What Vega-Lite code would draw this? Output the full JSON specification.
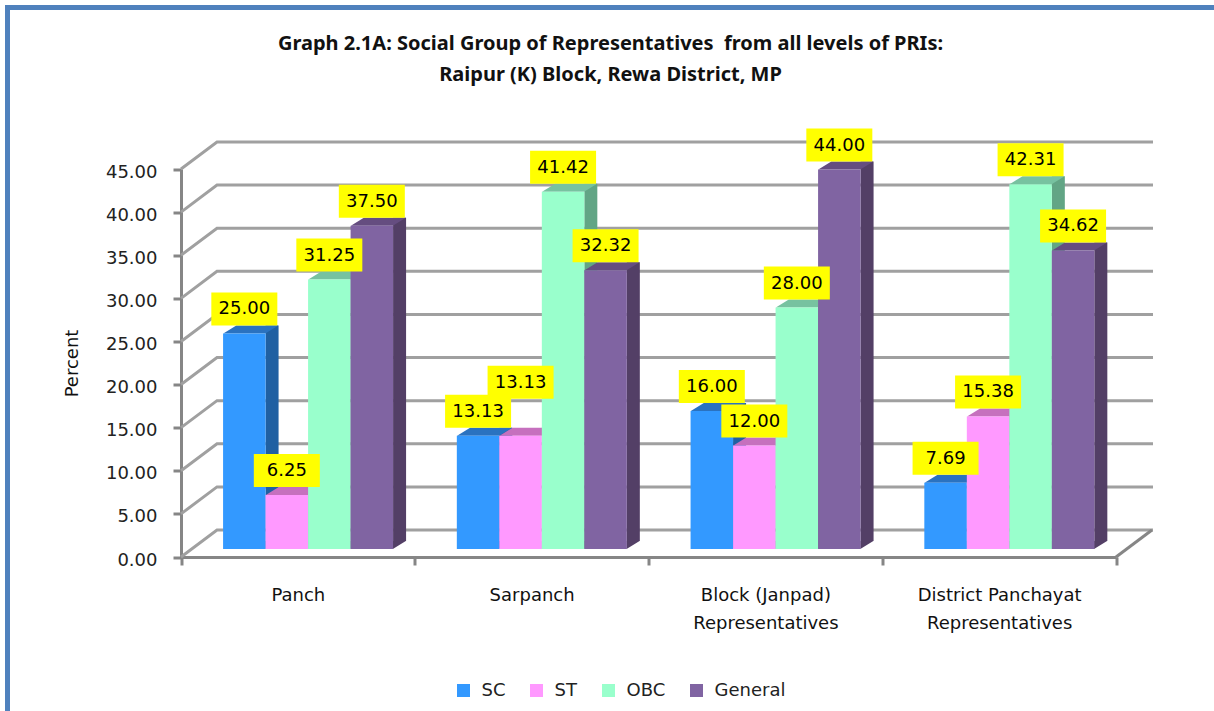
{
"$schema":"https://vega.github.io/schema/vega-lite/v6.json",
"width":1220,"height":720,
"autosize":"none",
"padding":{"left":7.5,"top":7.5,"right":-13.5,"bottom":-16.5},
"background":"white",
"view":{"stroke":"#4F81BD","strokeWidth":5,"fill":"white"},
"title":{"text":["Graph 2.1A: Social Group of Representatives \u00a0from all levels of PRIs:","Raipur (K) Block, Rewa District, MP"],"font":"Noto Sans","fontSize":20,"fontWeight":"bold","color":"#111","lineHeight":31,"anchor":"middle","frame":"group","dx":-7,"offset":-97,"baseline":"bottom"},
"config":{"font":"DejaVu Sans"},
"datasets":{
"bars":[
{"level":"Panch","group":"SC","pct":25},{"level":"Panch","group":"ST","pct":6.25},{"level":"Panch","group":"OBC","pct":31.25},{"level":"Panch","group":"General","pct":37.5},
{"level":"Sarpanch","group":"SC","pct":13.13},{"level":"Sarpanch","group":"ST","pct":13.13},{"level":"Sarpanch","group":"OBC","pct":41.42},{"level":"Sarpanch","group":"General","pct":32.32},
{"level":"Block (Janpad) Representatives","group":"SC","pct":16},{"level":"Block (Janpad) Representatives","group":"ST","pct":12},{"level":"Block (Janpad) Representatives","group":"OBC","pct":28},{"level":"Block (Janpad) Representatives","group":"General","pct":44},
{"level":"District Panchayat Representatives","group":"SC","pct":7.69},{"level":"District Panchayat Representatives","group":"ST","pct":15.38},{"level":"District Panchayat Representatives","group":"OBC","pct":42.31},{"level":"District Panchayat Representatives","group":"General","pct":34.62}
],
"ticks":[{"tick":0},{"tick":5},{"tick":10},{"tick":15},{"tick":20},{"tick":25},{"tick":30},{"tick":35},{"tick":40},{"tick":45}]
},
"data":{"name":"bars"},
"encoding":{
"x":{"field":"level","type":"nominal","title":null,"axis":null,"scale":{"domain":["Panch","Sarpanch","Block (Janpad) Representatives","District Panchayat Representatives"],"range":[173.5,1108.5],"paddingInner":0,"paddingOuter":0}},
"xOffset":{"field":"group","type":"nominal","scale":{"type":"band","domain":["SC","ST","OBC","General"],"paddingInner":0,"paddingOuter":0.75,"align":0.66}},
"y":{"field":"pct","type":"quantitative","title":null,"axis":null,"stack":null,"scale":{"domain":[0,45],"range":[549.5,161.5],"nice":false}}
},
"layer":[
{"data":{"name":"ticks"},
"mark":{"type":"point","shape":"M0,0L36,-27L972,-27","filled":false,"stroke":"#A0A0A0","strokeWidth":3,"size":4,"opacity":1},
"encoding":{"x":{"datum":"Panch","bandPosition":0,"axis":null},"xOffset":null,"y":{"field":"tick","type":"quantitative","axis":null}}},
{"data":{"name":"ticks"},"transform":[{"filter":"datum.tick===0"}],
"mark":{"type":"point","shape":"M0,0L36,-27","filled":false,"stroke":"#868686","strokeWidth":3,"size":4,"opacity":1},
"encoding":{"x":{"datum":"District Panchayat Representatives","bandPosition":1,"axis":null},"xOffset":null,"y":{"field":"tick","type":"quantitative","axis":null}}},
{"mark":{"type":"rule","strokeWidth":13,"yOffset":-16,"y2Offset":-16},
"encoding":{"y2":{"datum":0},
"xOffset":{"field":"group","type":"nominal","scale":{"type":"band","domain":["SC","ST","OBC","General"],"paddingInner":0,"paddingOuter":0.75,"align":0.66,"range":[27.75,261.5]}},
"color":{"field":"group","type":"nominal","legend":null,"scale":{"domain":["SC","ST","OBC","General"],"range":["#2060A2","#A85DA8","#62A585","#533F66"]}}}},
{"mark":{"type":"point","shape":"M21,0L34,-8L21,-8Z","filled":true,"size":4,"opacity":1,"yOffset":-8},
"encoding":{"y":{"datum":0,"axis":null},
"color":{"field":"group","type":"nominal","legend":null,"scale":{"domain":["SC","ST","OBC","General"],"range":["#2060A2","#A85DA8","#62A585","#533F66"]}}}},
{"mark":{"type":"point","shape":"M-21,0L21,0L34,-8L-8,-8Z","filled":true,"size":4,"opacity":1,"yOffset":-8},
"encoding":{
"color":{"field":"group","type":"nominal","legend":null,"scale":{"domain":["SC","ST","OBC","General"],"range":["#2A72C0","#C670BE","#77C2A0","#654D80"]}}}},
{"mark":{"type":"bar","yOffset":-8,"y2Offset":-8},
"encoding":{
"x":{"field":"level","type":"nominal","title":null,"scale":{"domain":["Panch","Sarpanch","Block (Janpad) Representatives","District Panchayat Representatives"],"range":[173.5,1108.5],"paddingInner":0,"paddingOuter":0},
"axis":{"orient":"bottom","offset":-170.5,"labelAngle":0,"tickBand":"extent","tickSize":8,"tickWidth":3,"tickColor":"#868686","domainColor":"#868686","domainWidth":3,"labelFont":"DejaVu Sans","labelFontSize":18,"labelColor":"#111","labelPadding":21,"labelLineHeight":28,"labelLimit":400,"labelBaseline":"top","grid":false,"labelExpr":"split(replace(datum.label,' Rep','\\nRep'),'\\n')"}},
"y":{"field":"pct","type":"quantitative","title":"Percent","stack":null,"scale":{"domain":[0,45],"range":[549.5,161.5],"nice":false},
"axis":{"orient":"left","offset":-173.5,"values":[0,5,10,15,20,25,30,35,40,45],"format":".2f","grid":false,"tickSize":8,"tickWidth":3,"tickColor":"#868686","domainColor":"#868686","domainWidth":3,"labelFont":"DejaVu Sans","labelFontSize":18,"labelColor":"#222","labelPadding":16,"labelOffset":3,"titleFont":"DejaVu Sans","titleFontSize":18,"titleFontWeight":"normal","titleColor":"#111","titlePadding":24}},
"y2":{"datum":0},
"color":{"field":"group","type":"nominal","title":null,"scale":{"domain":["SC","ST","OBC","General"],"range":["#3399FF","#FF99FF","#99FFCC","#8064A2"]},
"legend":{"orient":"none","legendX":447,"legendY":674,"direction":"horizontal","columns":4,"symbolType":"square","symbolSize":170,"symbolStrokeWidth":0,"labelFont":"DejaVu Sans","labelFontSize":18,"labelColor":"#222","columnPadding":22,"labelOffset":9,"gridAlign":"each"}}}},
{"transform":[{"filter":"!(datum.level==='Sarpanch' && datum.group==='ST')"}],
"mark":{"type":"point","shape":"M-33,-41L33,-41L33,-8L-33,-8Z","filled":true,"fill":"#FFFF00","size":4,"opacity":1,"yOffset":-8}},
{"transform":[{"filter":"!(datum.level==='Sarpanch' && datum.group==='ST')"}],
"mark":{"type":"text","font":"DejaVu Sans","fontSize":18,"color":"#000","yOffset":-32},
"encoding":{"text":{"field":"pct","type":"quantitative","format":".2f"}}},
{"transform":[{"filter":"datum.level==='Sarpanch' && datum.group==='ST'"}],
"mark":{"type":"point","shape":"M-33,-70L33,-70L33,-37L-33,-37Z","filled":true,"fill":"#FFFF00","size":4,"opacity":1,"yOffset":-8}},
{"transform":[{"filter":"datum.level==='Sarpanch' && datum.group==='ST'"}],
"mark":{"type":"text","font":"DejaVu Sans","fontSize":18,"color":"#000","yOffset":-61},
"encoding":{"text":{"field":"pct","type":"quantitative","format":".2f"}}}
],
"resolve":{"scale":{"color":"independent","xOffset":"independent"},"axis":{"x":"independent","y":"independent"}}
}
